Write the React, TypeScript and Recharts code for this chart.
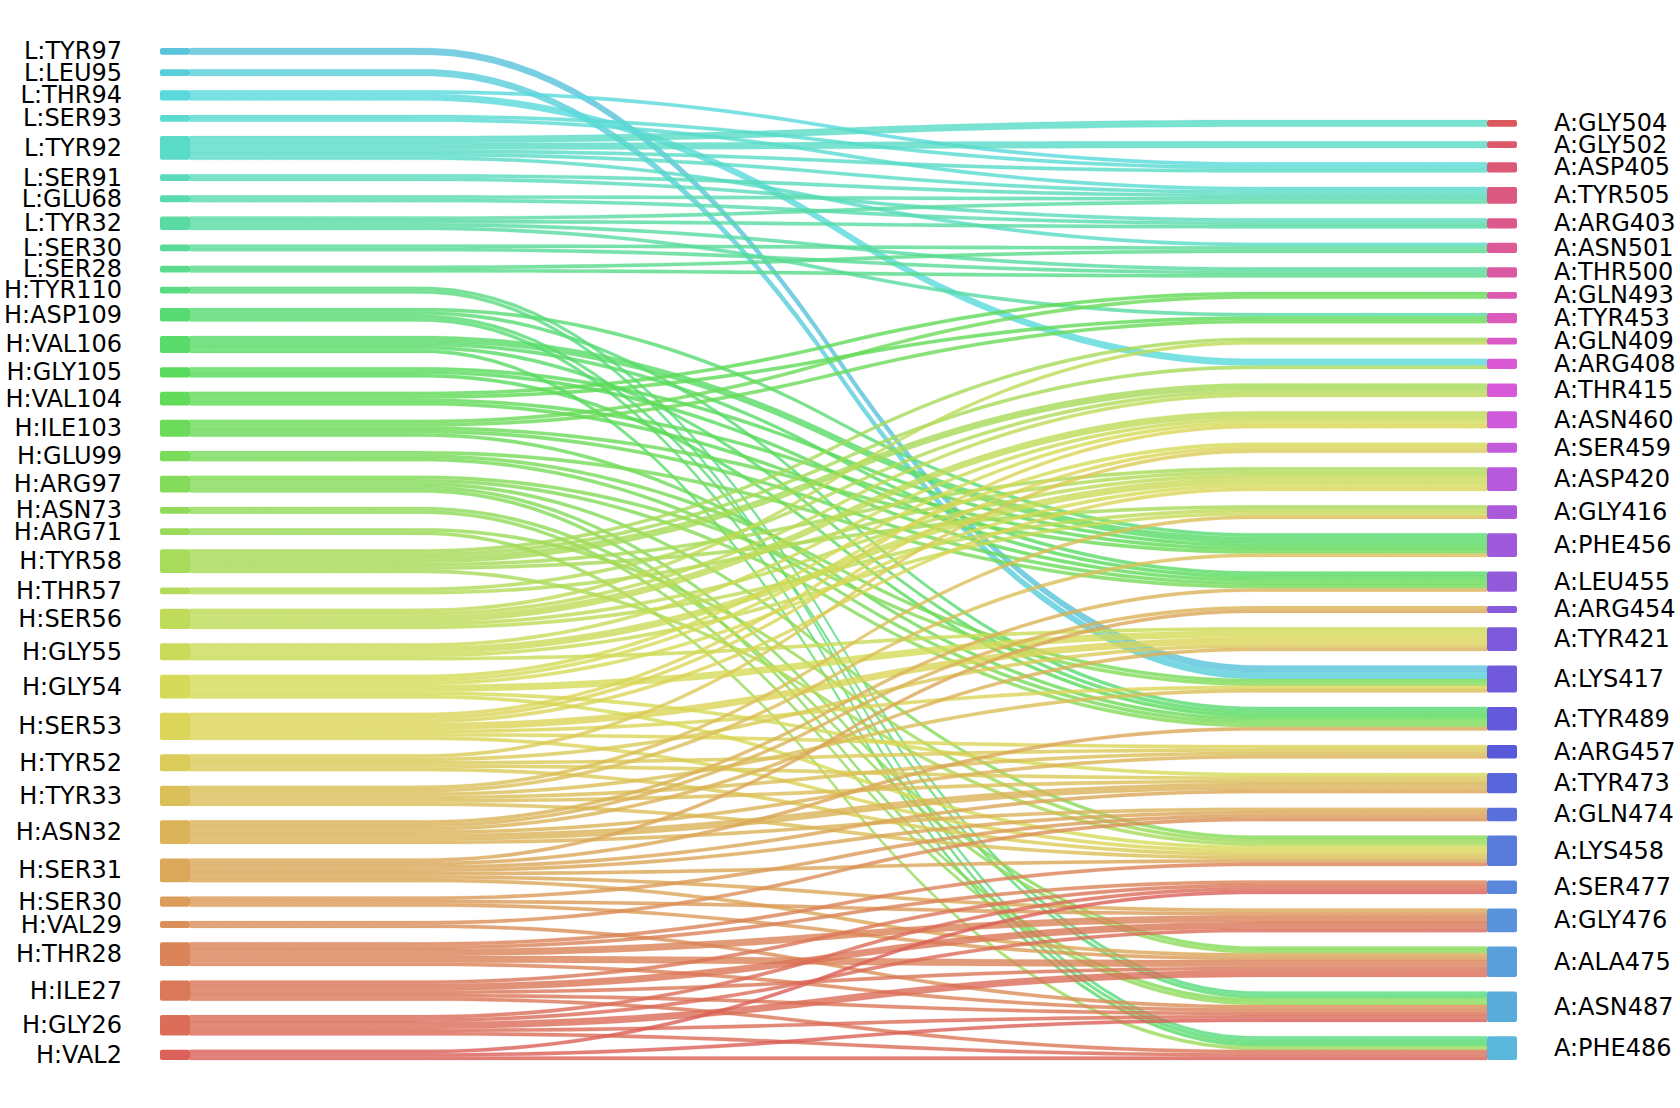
import React from 'react';
import { Sankey } from 'recharts';

// antibody residues, top to bottom
const leftNames = [
  'L:TYR97', 'L:LEU95', 'L:THR94', 'L:SER93', 'L:TYR92', 'L:SER91', 'L:GLU68', 'L:TYR32', 'L:SER30', 'L:SER28',
  'H:TYR110', 'H:ASP109', 'H:VAL106', 'H:GLY105', 'H:VAL104', 'H:ILE103', 'H:GLU99', 'H:ARG97', 'H:ASN73', 'H:ARG71',
  'H:TYR58', 'H:THR57', 'H:SER56', 'H:GLY55', 'H:GLY54', 'H:SER53', 'H:TYR52', 'H:TYR33', 'H:ASN32', 'H:SER31',
  'H:SER30', 'H:VAL29', 'H:THR28', 'H:ILE27', 'H:GLY26', 'H:VAL2',
];

// antigen residues, top to bottom
const rightNames = [
  'A:GLY504', 'A:GLY502', 'A:ASP405', 'A:TYR505', 'A:ARG403', 'A:ASN501', 'A:THR500', 'A:GLN493', 'A:TYR453', 'A:GLN409',
  'A:ARG408', 'A:THR415', 'A:ASN460', 'A:SER459', 'A:ASP420', 'A:GLY416', 'A:PHE456', 'A:LEU455', 'A:ARG454', 'A:TYR421',
  'A:LYS417', 'A:TYR489', 'A:ARG457', 'A:TYR473', 'A:GLN474', 'A:LYS458', 'A:SER477', 'A:GLY476', 'A:ALA475', 'A:ASN487',
  'A:PHE486',
];

// [antibody, antigen, contacts]
const contacts: [string, string, number][] = [
  ['L:TYR97', 'A:LYS417', 2],
  ['L:LEU95', 'A:LYS417', 2],
  ['L:THR94', 'A:ASP405', 1], ['L:THR94', 'A:ARG408', 2],
  ['L:SER93', 'A:ASP405', 1], ['L:SER93', 'A:TYR505', 1],
  ['L:TYR92', 'A:GLY504', 2], ['L:TYR92', 'A:GLY502', 2], ['L:TYR92', 'A:ASP405', 1], ['L:TYR92', 'A:TYR505', 1], ['L:TYR92', 'A:ASN501', 1],
  ['L:SER91', 'A:TYR505', 1], ['L:SER91', 'A:ARG403', 1],
  ['L:GLU68', 'A:TYR505', 1], ['L:GLU68', 'A:ARG403', 1],
  ['L:TYR32', 'A:TYR505', 1], ['L:TYR32', 'A:ARG403', 1], ['L:TYR32', 'A:THR500', 1], ['L:TYR32', 'A:TYR453', 1],
  ['L:SER30', 'A:ASN501', 1], ['L:SER30', 'A:THR500', 1],
  ['L:SER28', 'A:ASN501', 1], ['L:SER28', 'A:THR500', 1],
  ['H:TYR110', 'A:ASN487', 1], ['H:TYR110', 'A:PHE486', 1],
  ['H:ASP109', 'A:PHE456', 1], ['H:ASP109', 'A:TYR489', 1], ['H:ASP109', 'A:ASN487', 1], ['H:ASP109', 'A:PHE486', 1],
  ['H:VAL106', 'A:PHE456', 2], ['H:VAL106', 'A:LEU455', 1], ['H:VAL106', 'A:TYR489', 1], ['H:VAL106', 'A:PHE486', 1],
  ['H:GLY105', 'A:PHE456', 1], ['H:GLY105', 'A:LEU455', 1], ['H:GLY105', 'A:TYR489', 1],
  ['H:VAL104', 'A:GLN493', 1], ['H:VAL104', 'A:TYR453', 1], ['H:VAL104', 'A:PHE456', 1], ['H:VAL104', 'A:LEU455', 1],
  ['H:ILE103', 'A:GLN493', 1], ['H:ILE103', 'A:TYR453', 1], ['H:ILE103', 'A:PHE456', 1], ['H:ILE103', 'A:LEU455', 1], ['H:ILE103', 'A:TYR489', 1],
  ['H:GLU99', 'A:LEU455', 1], ['H:GLU99', 'A:LYS417', 1], ['H:GLU99', 'A:TYR489', 1],
  ['H:ARG97', 'A:LYS417', 1], ['H:ARG97', 'A:TYR489', 1], ['H:ARG97', 'A:LYS458', 1], ['H:ARG97', 'A:ALA475', 1], ['H:ARG97', 'A:ASN487', 1],
  ['H:ASN73', 'A:ALA475', 1], ['H:ASN73', 'A:ASN487', 1],
  ['H:ARG71', 'A:LYS458', 1], ['H:ARG71', 'A:PHE486', 1],
  ['H:TYR58', 'A:GLN409', 1], ['H:TYR58', 'A:ARG408', 1], ['H:TYR58', 'A:THR415', 2], ['H:TYR58', 'A:ASP420', 1], ['H:TYR58', 'A:GLY416', 1], ['H:TYR58', 'A:LYS458', 1],
  ['H:THR57', 'A:THR415', 1], ['H:THR57', 'A:ASP420', 1],
  ['H:SER56', 'A:GLN409', 1], ['H:SER56', 'A:THR415', 1], ['H:SER56', 'A:ASN460', 2], ['H:SER56', 'A:ASP420', 1], ['H:SER56', 'A:GLY416', 1],
  ['H:GLY55', 'A:ASN460', 1], ['H:GLY55', 'A:ASP420', 2], ['H:GLY55', 'A:GLY416', 1], ['H:GLY55', 'A:TYR421', 1],
  ['H:GLY54', 'A:ASN460', 1], ['H:GLY54', 'A:SER459', 1], ['H:GLY54', 'A:ASP420', 1], ['H:GLY54', 'A:TYR421', 2], ['H:GLY54', 'A:TYR473', 1], ['H:GLY54', 'A:LYS458', 1],
  ['H:SER53', 'A:ASN460', 1], ['H:SER53', 'A:SER459', 1], ['H:SER53', 'A:ASP420', 1], ['H:SER53', 'A:TYR421', 2], ['H:SER53', 'A:LYS417', 1], ['H:SER53', 'A:ARG457', 1], ['H:SER53', 'A:LYS458', 1],
  ['H:TYR52', 'A:SER459', 1], ['H:TYR52', 'A:TYR421', 1], ['H:TYR52', 'A:ARG457', 1], ['H:TYR52', 'A:TYR473', 1], ['H:TYR52', 'A:LYS458', 1],
  ['H:TYR33', 'A:GLY416', 1], ['H:TYR33', 'A:PHE456', 1], ['H:TYR33', 'A:LYS417', 1], ['H:TYR33', 'A:ARG457', 1], ['H:TYR33', 'A:TYR473', 1], ['H:TYR33', 'A:LYS458', 1],
  ['H:ASN32', 'A:LEU455', 1], ['H:ASN32', 'A:ARG454', 1], ['H:ASN32', 'A:TYR421', 1], ['H:ASN32', 'A:ARG457', 1], ['H:ASN32', 'A:TYR473', 2], ['H:ASN32', 'A:GLN474', 1],
  ['H:SER31', 'A:ARG454', 1], ['H:SER31', 'A:TYR489', 1], ['H:SER31', 'A:TYR473', 1], ['H:SER31', 'A:GLN474', 1], ['H:SER31', 'A:LYS458', 1], ['H:SER31', 'A:GLY476', 1], ['H:SER31', 'A:ALA475', 1],
  ['H:SER30', 'A:GLN474', 1], ['H:SER30', 'A:GLY476', 1], ['H:SER30', 'A:ALA475', 1],
  ['H:VAL29', 'A:GLN474', 1], ['H:VAL29', 'A:ASN487', 1],
  ['H:THR28', 'A:LYS458', 1], ['H:THR28', 'A:SER477', 1], ['H:THR28', 'A:GLY476', 2], ['H:THR28', 'A:ALA475', 2], ['H:THR28', 'A:ASN487', 1],
  ['H:ILE27', 'A:SER477', 1], ['H:ILE27', 'A:GLY476', 2], ['H:ILE27', 'A:ALA475', 1], ['H:ILE27', 'A:ASN487', 1], ['H:ILE27', 'A:PHE486', 1],
  ['H:GLY26', 'A:SER477', 1], ['H:GLY26', 'A:GLY476', 1], ['H:GLY26', 'A:ALA475', 2], ['H:GLY26', 'A:ASN487', 1], ['H:GLY26', 'A:PHE486', 1],
  ['H:VAL2', 'A:SER477', 1], ['H:VAL2', 'A:ASN487', 1], ['H:VAL2', 'A:PHE486', 1],
];

const WIDTH = 1680;
const HEIGHT = 1108;
// invisible zero-size nodes that push the shorter right column down
const SPACERS = 5;

// seaborn-like "hls" palette
function hlsColor(h: number, l = 0.6, s = 0.65) {
  const m2 = l <= 0.5 ? l * (1 + s) : l + s - l * s;
  const m1 = 2 * l - m2;
  const v = (hue: number) => {
    hue = ((hue % 1) + 1) % 1;
    if (hue < 1 / 6) return m1 + (m2 - m1) * hue * 6;
    if (hue < 0.5) return m2;
    if (hue < 2 / 3) return m1 + (m2 - m1) * (2 / 3 - hue) * 6;
    return m1;
  };
  const hex = (x: number) => Math.round(x * 255).toString(16).padStart(2, '0');
  return '#' + hex(v(h + 1 / 3)) + hex(v(h)) + hex(v(h - 1 / 3));
}

const total = leftNames.length + rightNames.length;
const colorAt = (i: number) => hlsColor((0.01 + i / total) % 1);

const nodes = [
  ...leftNames.map((name, i) => ({ name, side: 'left', color: colorAt(leftNames.length - 1 - i) })),
  ...Array.from({ length: SPACERS }, () => ({ name: '', side: 'right', spacer: true, color: 'none' })),
  ...rightNames.map((name, i) => ({
    name,
    side: 'right',
    color: colorAt(leftNames.length + rightNames.length - 1 - i),
  })),
];

const indexOf = (name: string) => nodes.findIndex((n) => n.name === name);

const links = [
  ...Array.from({ length: SPACERS }, (_, k) => ({
    source: 0,
    target: leftNames.length + k,
    value: 0.000001,
    spacer: true,
    color: 'none',
  })),
  ...contacts.map(([s, t, value]) => ({
    source: indexOf(s),
    target: indexOf(t),
    value,
    color: nodes[indexOf(s)].color,
  })),
];

// smoothed step used for the strips: flat ends, quadratic s-curve in the middle
function ease(f: number) {
  const a = 11 / 61;
  const b = 50 / 61;
  if (f <= a) return 0;
  if (f >= b) return 1;
  const u = (f - a) / (b - a);
  return u < 0.5 ? 2 * u * u : 1 - 2 * (1 - u) * (1 - u);
}

function Strip(props: any) {
  const { sourceX, targetX, sourceY, targetY, linkWidth, payload } = props;
  if (!payload || payload.spacer || payload.value < 0.01) return <g />;
  const color = payload.color || payload.source?.color;
  const n = 64;
  const top: string[] = [];
  const bottom: string[] = [];
  for (let i = 0; i <= n; i++) {
    const f = i / n;
    const x = sourceX + (targetX - sourceX) * f;
    const y = sourceY + (targetY - sourceY) * ease(f);
    top.push(`${x.toFixed(2)},${(y - linkWidth / 2).toFixed(2)}`);
    bottom.unshift(`${x.toFixed(2)},${(y + linkWidth / 2).toFixed(2)}`);
  }
  const d = `M${top.join('L')}L${bottom.join('L')}Z`;
  return <path d={d} fill={color} fillOpacity={0.8} stroke={color} strokeOpacity={0.25} strokeWidth={0.8} />;
}

function Bar(props: any) {
  const { x, y, width, height, payload } = props;
  if (!payload || payload.spacer) return <g />;
  const isLeft = payload.side === 'left';
  return (
    <g>
      <rect x={x} y={y} width={width} height={height} rx={2} fill={payload.color} fillOpacity={0.99} />
      <text
        x={isLeft ? x - 38 : x + width + 37}
        y={y + height / 2}
        textAnchor={isLeft ? 'end' : 'start'}
        dominantBaseline="central"
        fontFamily="DejaVu Sans"
        fontSize={24}
        fill="#000"
      >
        {payload.name}
      </text>
    </g>
  );
}

export default function App() {
  return (
    <div style={{ position: 'absolute', left: 0, top: 0, width: WIDTH, height: HEIGHT, background: '#fff' }}>
      <Sankey
        width={WIDTH}
        height={HEIGHT}
        data={{ nodes, links }}
        nodeWidth={30}
        nodePadding={14.4}
        iterations={0}
        margin={{ top: 48, right: 163, bottom: 48, left: 160 }}
        node={Bar}
        link={Strip}
      />
    </div>
  );
}
